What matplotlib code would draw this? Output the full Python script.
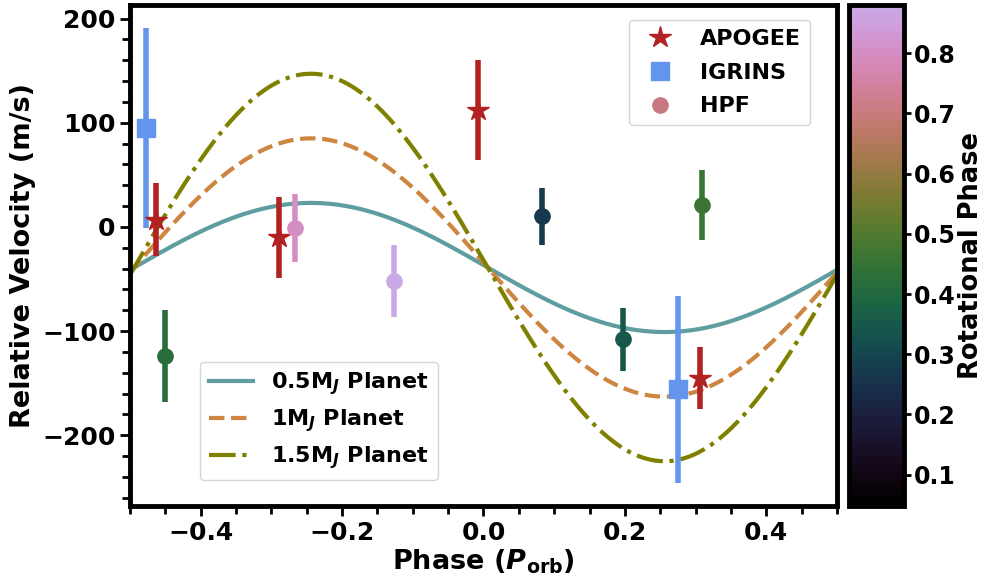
import numpy as np
import matplotlib
matplotlib.use("Agg")
import matplotlib.pyplot as plt
from matplotlib.colors import LinearSegmentedColormap, Normalize
from matplotlib.lines import Line2D
from matplotlib.ticker import MultipleLocator

plt.rcParams['font.family'] = ['DejaVu Sans']
plt.rcParams['font.weight'] = 'bold'
plt.rcParams['mathtext.fontset'] = 'dejavusans'

# APOGEE radial velocities
apogee_phase = [-0.463, -0.289, -0.008, 0.306]
apogee_rv = [7, -10, 112, -145]
apogee_err = [35, 39, 48, 30]

# IGRINS radial velocities
igrins_phase = [-0.477, 0.275]
igrins_rv = [95, -156]
igrins_err = [96, 90]

# HPF radial velocities, coloured by rotational phase
hpf_phase = [-0.451, -0.266, -0.127, 0.083, 0.197, 0.309]
hpf_rv = [-124, -1, -52, 10, -108, 21]
hpf_err = [44, 33, 35, 27, 30, 34]
hpf_rot = [0.42, 0.80, 0.88, 0.27, 0.35, 0.46]

# Keplerian models for companions of different mass
model_labels = [r'0.5M$_{\mathbfit{J}}$ Planet', r'1M$_{\mathbfit{J}}$ Planet',
                r'1.5M$_{\mathbfit{J}}$ Planet']
model_K = [62, 124, 186]
model_gamma = -39
model_phase0 = 0.006
model_colors = ['#5f9ea0', '#cd853f', '#808000']
model_styles = ['-', '--', '-.']

rot_min, rot_max = 0.048, 0.88

base = plt.get_cmap('cubehelix')
cmap = LinearSegmentedColormap.from_list('cubehelix_trunc', base(np.linspace(0, 0.73, 256)))
norm = Normalize(vmin=rot_min, vmax=rot_max)

fig = plt.figure(figsize=(9.87, 5.79), dpi=100)
W, H = 987, 579
ax = fig.add_axes([130 / W, 1 - 506 / H, (837 - 130) / W, (506 - 5) / H])
cax = fig.add_axes([849 / W, 1 - 506 / H, (904 - 849) / W, (506 - 5) / H])

phase = np.linspace(-0.5, 0.5, 500)
for K, lab, col, ls in zip(model_K, model_labels, model_colors, model_styles):
    ax.plot(phase, model_gamma - K * np.sin(2 * np.pi * (phase - model_phase0)),
            color=col, ls=ls, lw=3, label=lab, zorder=2)

ax.errorbar(apogee_phase, apogee_rv, yerr=apogee_err, fmt='*', color='#b22222',
            ms=16, elinewidth=4, capsize=0, zorder=4)
ax.errorbar(igrins_phase, igrins_rv, yerr=igrins_err, fmt='s', color='#6495ed',
            ms=13, elinewidth=4, capsize=0, zorder=3)
for x, y, e, r in zip(hpf_phase, hpf_rv, hpf_err, hpf_rot):
    c = cmap(norm(r))
    ax.errorbar([x], [y], yerr=[e], fmt='o', color=c, ms=11, elinewidth=4,
                capsize=0, zorder=4)

ax.set_xlim(-0.5, 0.5)
ax.set_ylim(-268, 213)
ax.xaxis.set_major_locator(MultipleLocator(0.2))
ax.xaxis.set_minor_locator(MultipleLocator(0.05))
ax.yaxis.set_major_locator(MultipleLocator(100))
ax.yaxis.set_minor_locator(MultipleLocator(20))
ax.tick_params(which='both', direction='out', width=2, labelsize=18)
ax.tick_params(which='major', length=7)
ax.tick_params(which='minor', length=6)
for s in ax.spines.values():
    s.set_linewidth(3.5)
ax.set_xlabel(r'Phase ($\mathbfit{P}_{\mathbf{orb}}$)', fontsize=19.5, fontweight='bold',
              labelpad=2)
ax.set_ylabel('Relative Velocity (m/s)', fontsize=19.5, fontweight='bold', labelpad=4)

model_leg = ax.legend(loc='lower left', bbox_to_anchor=(0.099, 0.052),
                      borderaxespad=0, labelspacing=0.45,
                      prop={'weight': 'bold', 'size': 16})
ax.add_artist(model_leg)

inst_handles = [
    Line2D([], [], ls='none', marker='*', color='#b22222', ms=16),
    Line2D([], [], ls='none', marker='s', color='#6495ed', ms=13),
    Line2D([], [], ls='none', marker='o', color='#c87880', ms=11),
]
ax.legend(inst_handles, ['APOGEE', 'IGRINS', 'HPF'], loc='upper right',
          bbox_to_anchor=(0.962, 0.97), borderaxespad=0, labelspacing=0.62,
          prop={'weight': 'bold', 'size': 16})

sm = plt.cm.ScalarMappable(norm=norm, cmap=cmap)
cb = fig.colorbar(sm, cax=cax)
cb.outline.set_linewidth(3.5)
cb.set_ticks([0.1, 0.2, 0.3, 0.4, 0.5, 0.6, 0.7, 0.8])
cax.tick_params(labelsize=17, width=2, length=5, pad=2)
cb.set_label('Rotational Phase', fontsize=18.5, fontweight='bold', labelpad=2)

fig.savefig('out.png', dpi=100)
